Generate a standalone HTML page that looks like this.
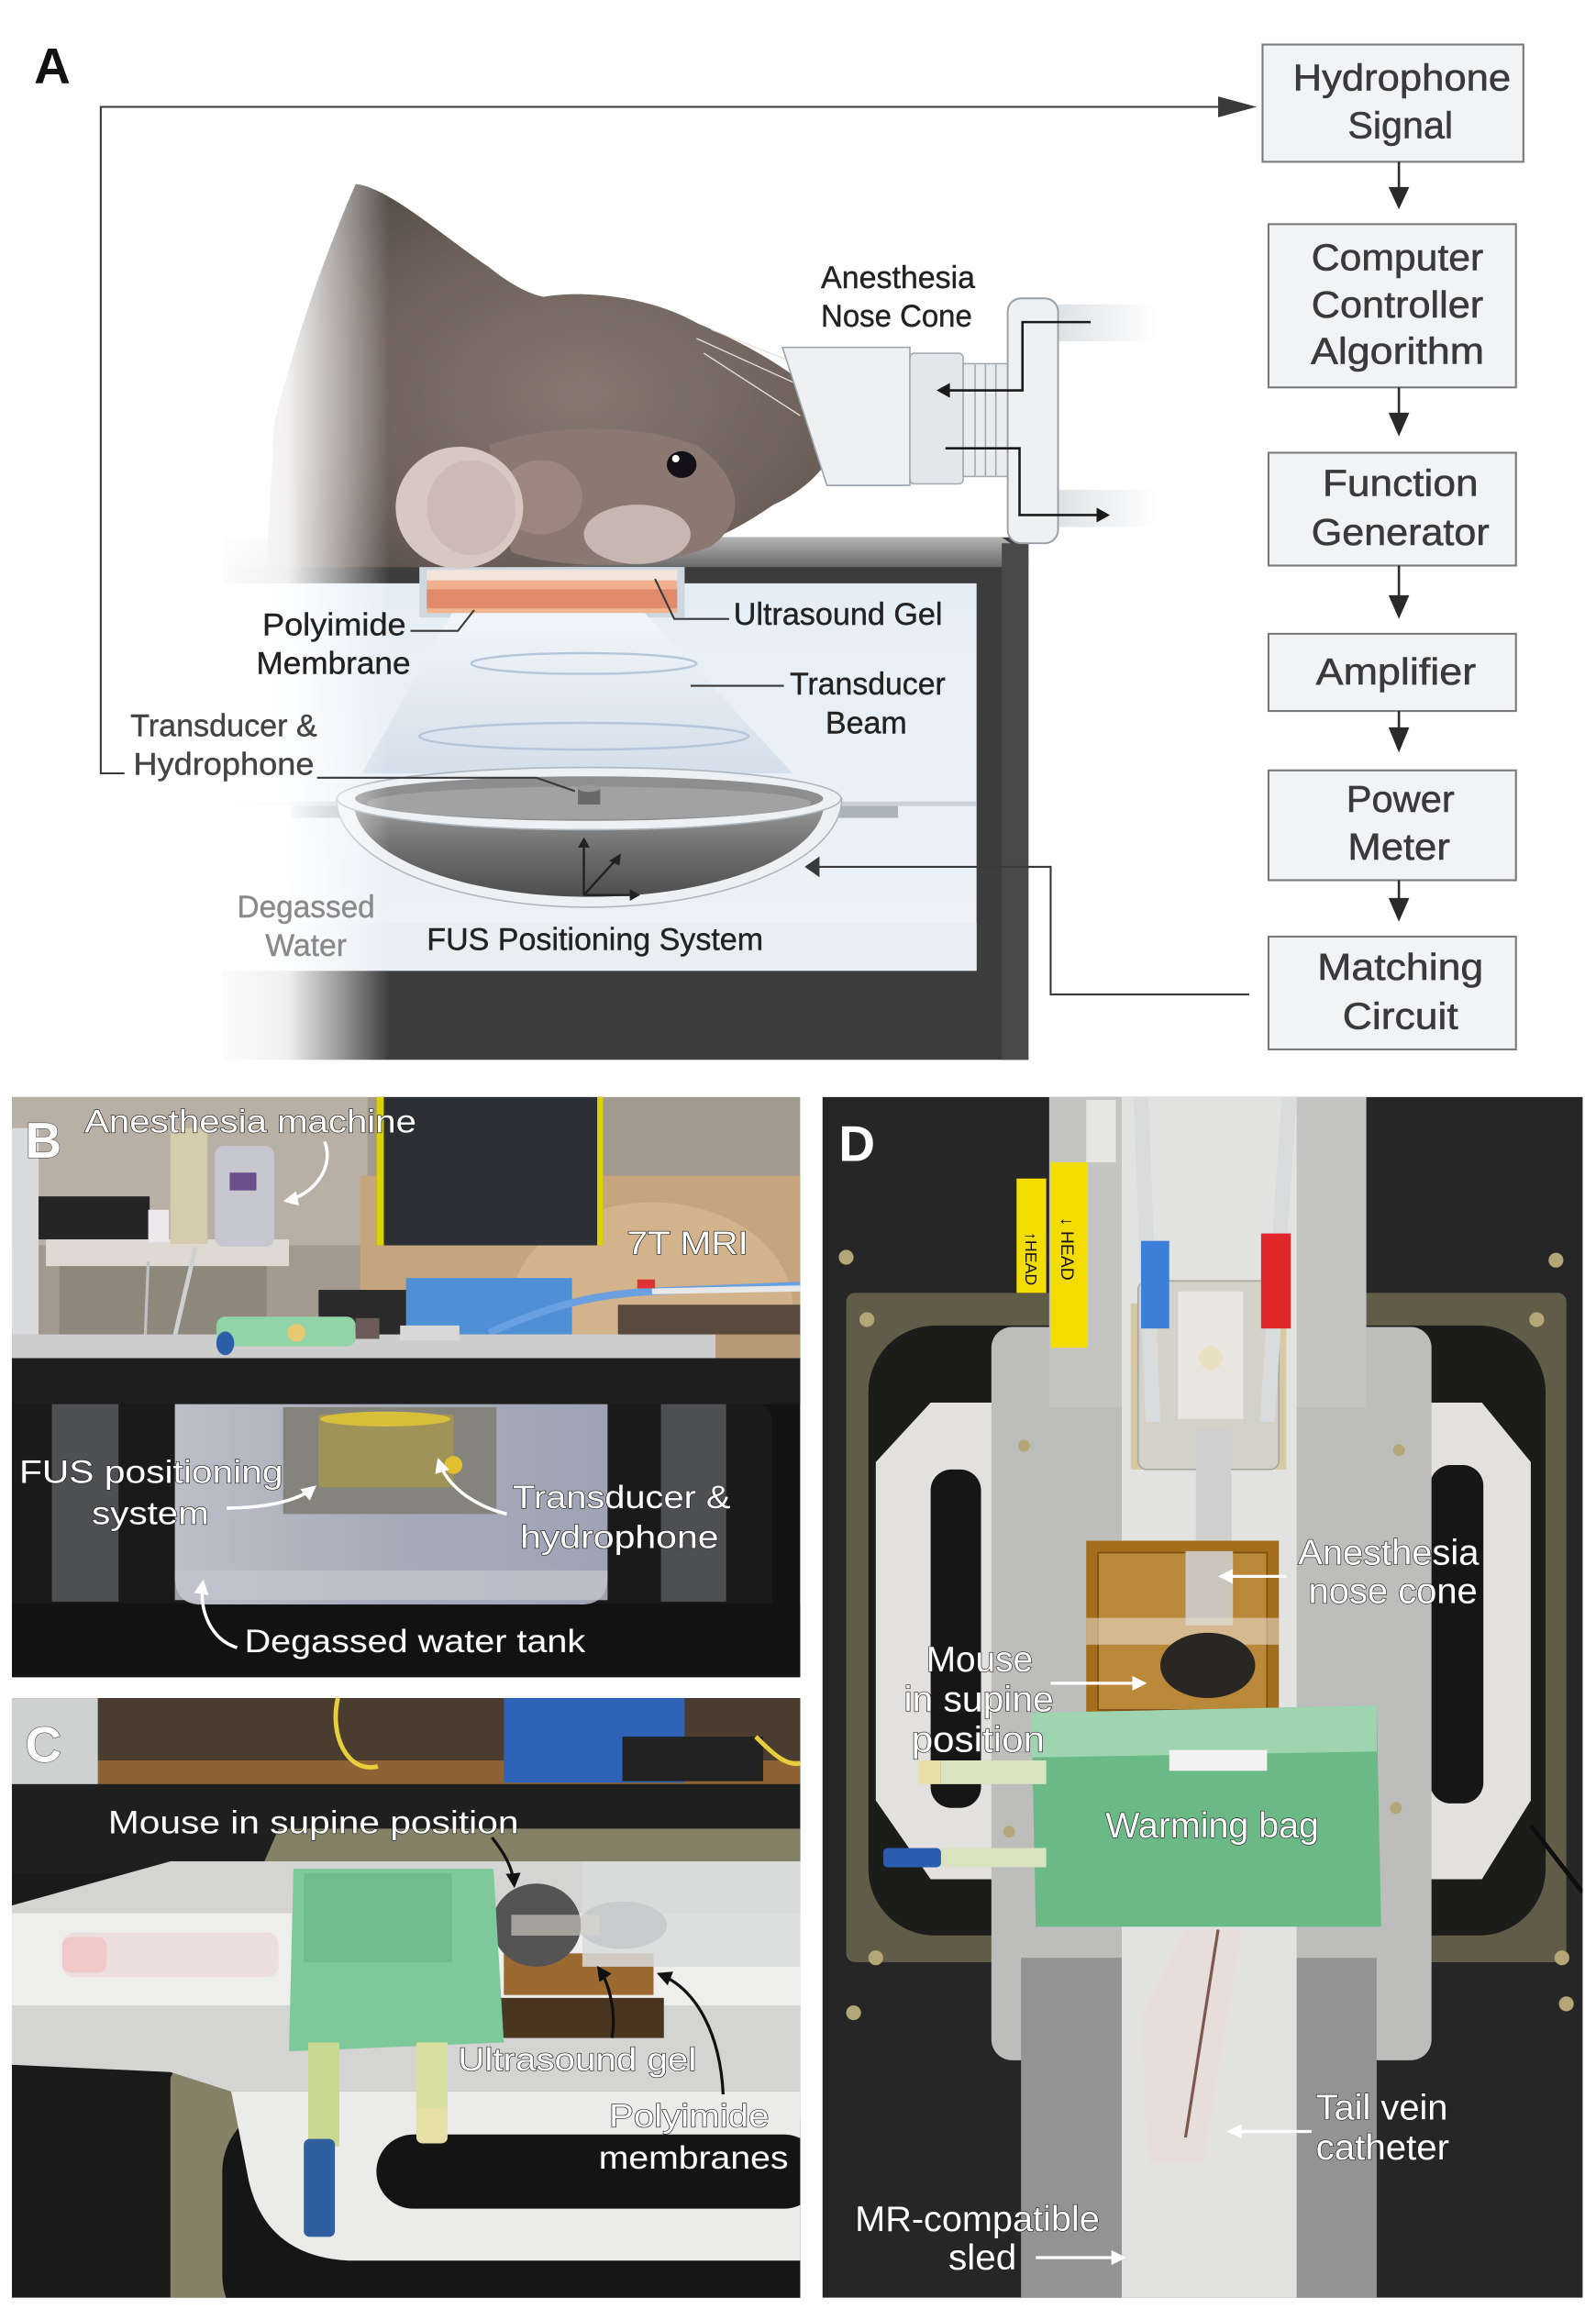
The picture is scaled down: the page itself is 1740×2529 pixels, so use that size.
<!DOCTYPE html>
<html><head><meta charset="utf-8"><style>
html,body{margin:0;padding:0;background:#fff;}
svg{display:block;}
text{font-family:"Liberation Sans",Arial,sans-serif;}
.fc{font-size:25px;fill:#3a3a3a;text-anchor:middle;stroke:#3a3a3a;stroke-width:0.35;}
.la{font-size:21px;fill:#222;stroke:#222;stroke-width:0.25;}
.wt{font-size:22px;fill:#fff;stroke:#222;stroke-width:0.8;paint-order:stroke;}
.wd{font-size:24px;fill:#fff;stroke:#222;stroke-width:0.8;paint-order:stroke;}
</style></head><body>
<svg xmlns="http://www.w3.org/2000/svg" width="1740" height="2529" viewBox="0 0 1077 1563" preserveAspectRatio="none">
<defs>
<linearGradient id="fadeL" x1="0" y1="0" x2="1" y2="0"><stop offset="0" stop-color="#fff" stop-opacity="1"/><stop offset="0.45" stop-color="#fff" stop-opacity="0.92"/><stop offset="0.75" stop-color="#fff" stop-opacity="0.45"/><stop offset="1" stop-color="#fff" stop-opacity="0"/></linearGradient>
<linearGradient id="win" x1="0" y1="0" x2="0" y2="1"><stop offset="0" stop-color="#e6eef5"/><stop offset="1" stop-color="#eef2f6"/></linearGradient>
<linearGradient id="topf" x1="0" y1="0" x2="0" y2="1"><stop offset="0" stop-color="#b4b4b4"/><stop offset="1" stop-color="#6a6a6a"/></linearGradient>
<linearGradient id="bowl" x1="0" y1="0" x2="0" y2="1"><stop offset="0" stop-color="#9a9a9a"/><stop offset="0.5" stop-color="#6e6e6e"/><stop offset="1" stop-color="#4e4e4e"/></linearGradient>
<linearGradient id="beam" x1="0" y1="0" x2="0" y2="1"><stop offset="0" stop-color="#f4f7fb" stop-opacity="0.9"/><stop offset="1" stop-color="#cfdbe8" stop-opacity="0.8"/></linearGradient>
<radialGradient id="fur" cx="0.55" cy="0.55" r="0.6"><stop offset="0" stop-color="#86786f"/><stop offset="0.7" stop-color="#6e615a"/><stop offset="1" stop-color="#5a4f49"/></radialGradient>
<linearGradient id="tube" x1="0" y1="0" x2="1" y2="0"><stop offset="0" stop-color="#dfe2e5"/><stop offset="1" stop-color="#fff"/></linearGradient>
<linearGradient id="tank" x1="0" y1="0" x2="1" y2="0"><stop offset="0" stop-color="#bcbec8"/><stop offset="0.5" stop-color="#a8abb8"/><stop offset="1" stop-color="#9ea3b5"/></linearGradient>
<marker id="mw" viewBox="0 0 10 10" refX="8" refY="5" markerWidth="10" markerHeight="10" markerUnits="userSpaceOnUse" orient="auto"><path d="M0,0 L10,5 L0,10 z" fill="#fff"/></marker>
<marker id="mk" viewBox="0 0 10 10" refX="8" refY="5" markerWidth="10" markerHeight="10" markerUnits="userSpaceOnUse" orient="auto"><path d="M0,0 L10,5 L0,10 z" fill="#111"/></marker>
<clipPath id="cB"><rect x="8" y="739" width="532" height="391"/></clipPath>
<clipPath id="cC"><rect x="8" y="1144" width="532" height="404"/></clipPath>
<clipPath id="cD"><rect x="555" y="739" width="513" height="809"/></clipPath>
</defs>

<!-- ============ PANEL A ============ -->
<text x="23" y="56" style="font-size:34px;font-weight:bold;fill:#111;">A</text>

<!-- box -->
<rect x="150" y="362" width="544" height="352" fill="#3d3d3d"/>
<polygon points="150,362 676,362 694,374 694,382 150,382" fill="url(#topf)"/>
<rect x="676" y="366" width="18" height="348" fill="#4a4a4a"/>
<rect x="150" y="393" width="509" height="261" fill="url(#win)"/>
<rect x="150" y="622" width="509" height="32" fill="#e9eef3"/>
<!-- membrane notch -->
<rect x="283" y="382" width="179" height="34" fill="#cfd8e0"/>
<rect x="288" y="384" width="169" height="7" fill="#f3e4dc"/>
<rect x="288" y="391" width="169" height="6" fill="#f0b08e"/>
<rect x="288" y="397" width="169" height="13" fill="#df8a6a"/>
<rect x="288" y="410" width="169" height="3" fill="#f2b592"/>
<!-- beam -->
<polygon points="305,413 435,413 535,521 244,521" fill="url(#beam)"/>
<ellipse cx="394" cy="447" rx="76" ry="7" fill="none" stroke="#b5c6da" stroke-width="1.5"/>
<ellipse cx="394" cy="496" rx="111" ry="9" fill="none" stroke="#b5c6da" stroke-width="1.5"/>
<!-- rails -->
<rect x="149" y="540" width="510" height="3" fill="#c9d0d8"/>
<rect x="197" y="543" width="40" height="8" fill="#aab3bc"/>
<rect x="566" y="543" width="40" height="8" fill="#aab3bc"/>
<!-- bowl -->
<path d="M227,538 A170,73 0 0 0 568,538 Z" fill="#eef1f4" stroke="#aeb6be" stroke-width="1"/>
<path d="M239,541 A158,63 0 0 0 556,541 Z" fill="url(#bowl)"/>
<ellipse cx="397.5" cy="538" rx="170" ry="21" fill="#eef1f4" stroke="#aeb6be" stroke-width="1"/>
<ellipse cx="397.5" cy="538" rx="158" ry="15" fill="#8e8e8e"/>
<ellipse cx="397.5" cy="541" rx="150" ry="11" fill="#a2a2a2"/>
<rect x="390" y="531" width="15" height="11" fill="#6a6a6a"/>
<ellipse cx="397.5" cy="531" rx="7.5" ry="2.5" fill="#999"/>
<!-- axes -->
<g stroke="#222" stroke-width="1.5" fill="none">
<path d="M394,603 V570"/><path d="M394,603 H426"/><path d="M394,603 L415,580"/>
</g>
<polygon points="390,571 398,571 394,564" fill="#222"/>
<polygon points="425,599 425,607 432,603" fill="#222"/>
<polygon points="411,580 418,583 419,575" fill="#222"/>

<!-- mouse -->
<path d="M180,382 L185,285 C200,225 222,165 240,124 C262,126 300,160 330,180 C345,192 357,198 367,200 C395,195 440,200 471,218 C505,232 535,250 558,271 L565,300 C555,320 538,333 522,340 C500,355 480,366 454,371 C430,378 400,381 367,382 Z" fill="url(#fur)"/>
<path d="M330,300 C370,285 430,285 470,300 C500,320 505,350 480,368 C440,384 380,384 345,372 Z" fill="#8a7871"/>
<ellipse cx="430" cy="360" rx="36" ry="20" fill="#c8b6b1"/>
<ellipse cx="365" cy="335" rx="28" ry="25" fill="#9e8680"/>
<ellipse cx="310" cy="342" rx="43" ry="41" fill="#d7c8c3"/>
<ellipse cx="318" cy="342" rx="30" ry="32" fill="#cdbab4"/>
<ellipse cx="460" cy="313" rx="10" ry="9" fill="#141018"/>
<circle cx="456" cy="309" r="2.5" fill="#fff"/>
<g stroke="#e8e2de" stroke-width="0.8" fill="none">
<path d="M470,228 L545,262"/><path d="M480,222 L550,250"/><path d="M475,238 L540,280"/>
</g>
<!-- nose cone -->
<ellipse cx="556" cy="292" rx="8" ry="18" fill="#d6b4ae"/>
<polygon points="528,234 614,234 614,327 558,327" fill="#eef0f2" stroke="#9aa3ab" stroke-width="1"/>
<rect x="614" y="238" width="36" height="88" rx="3" fill="#e4e7ea" stroke="#a4acb3" stroke-width="1"/>
<rect x="650" y="245" width="30" height="76" fill="#e9ebed" stroke="#a4acb3" stroke-width="1"/>
<g stroke="#a4acb3" stroke-width="1"><line x1="658" y1="245" x2="658" y2="321"/><line x1="665" y1="245" x2="665" y2="321"/><line x1="672" y1="245" x2="672" y2="321"/></g>
<rect x="714" y="205" width="66" height="25" fill="url(#tube)"/>
<rect x="714" y="330" width="66" height="25" fill="url(#tube)"/>
<rect x="680" y="201" width="34" height="165" rx="9" fill="#eef0f2" stroke="#98a0a8" stroke-width="1.2"/>
<g stroke="#1a1a1a" stroke-width="1.6" fill="none">
<path d="M736,217 H690 V263 H640"/><path d="M638,302 H688 V347 H741"/>
</g>
<polygon points="641,258 641,268 632,263" fill="#1a1a1a"/>
<polygon points="740,342 740,352 749,347" fill="#1a1a1a"/>

<!-- left fade -->
<rect x="138" y="110" width="125" height="610" fill="url(#fadeL)"/>

<!-- connectors -->
<g stroke="#3a3a3a" stroke-width="1.3" fill="none">
<path d="M84,521 H68 V72 H823"/>
<path d="M843,670 H709 V584 H552"/>
<path d="M214,524 H362 L388,533"/>
<path d="M277,425 H309 L320,411"/>
<path d="M442,390 L455,417 H492"/>
<path d="M466,462 H529"/>
</g>
<polygon points="822,65 848,72 822,79" fill="#3a3a3a"/>
<polygon points="553,577 553,591 543,584" fill="#3a3a3a"/>

<!-- labels A -->
<text class="la" x="554" y="194" textLength="104" lengthAdjust="spacingAndGlyphs">Anesthesia</text>
<text class="la" x="554" y="220" textLength="102" lengthAdjust="spacingAndGlyphs">Nose Cone</text>
<text class="la" x="177" y="428" textLength="97" lengthAdjust="spacingAndGlyphs">Polyimide</text>
<text class="la" x="173" y="454" textLength="104" lengthAdjust="spacingAndGlyphs">Membrane</text>
<text class="la" x="495" y="421" textLength="141" lengthAdjust="spacingAndGlyphs">Ultrasound Gel</text>
<text class="la" x="533" y="468" textLength="105" lengthAdjust="spacingAndGlyphs">Transducer</text>
<text class="la" x="557" y="494" textLength="55" lengthAdjust="spacingAndGlyphs">Beam</text>
<text class="la" x="88" y="496" textLength="126" lengthAdjust="spacingAndGlyphs" style="fill:#444;stroke:#444">Transducer &amp;</text>
<text class="la" x="90" y="522" textLength="122" lengthAdjust="spacingAndGlyphs" style="fill:#444;stroke:#444">Hydrophone</text>
<text class="la" x="160" y="618" textLength="93" lengthAdjust="spacingAndGlyphs" style="fill:#8a8a8a;stroke:#8a8a8a">Degassed</text>
<text class="la" x="179" y="644" textLength="55" lengthAdjust="spacingAndGlyphs" style="fill:#8a8a8a;stroke:#8a8a8a">Water</text>
<text class="la" x="288" y="640" textLength="227" lengthAdjust="spacingAndGlyphs">FUS Positioning System</text>

<!-- flowchart -->
<g stroke="#7a7a7a" stroke-width="1.3" fill="#f2f3f5">
<rect x="852" y="30" width="176" height="79"/>
<rect x="856" y="151" width="167" height="110"/>
<rect x="856" y="305" width="167" height="76"/>
<rect x="856" y="427" width="167" height="52"/>
<rect x="856" y="519" width="167" height="74"/>
<rect x="856" y="631" width="167" height="76"/>
</g>
<g stroke="#2a2a2a" stroke-width="1.6">
<line x1="944" y1="109" x2="944" y2="128"/>
<line x1="944" y1="261" x2="944" y2="280"/>
<line x1="944" y1="381" x2="944" y2="403"/>
<line x1="944" y1="479" x2="944" y2="492"/>
<line x1="944" y1="593" x2="944" y2="607"/>
</g>
<g fill="#2a2a2a">
<polygon points="937,126 951,126 944,141"/>
<polygon points="937,278 951,278 944,294"/>
<polygon points="937,401 951,401 944,417"/>
<polygon points="937,490 951,490 944,507"/>
<polygon points="937,605 951,605 944,621"/>
</g>
<text class="fc" x="946" y="61" textLength="147" lengthAdjust="spacingAndGlyphs">Hydrophone</text>
<text class="fc" x="945" y="93" textLength="71" lengthAdjust="spacingAndGlyphs">Signal</text>
<text class="fc" x="943" y="182" textLength="116" lengthAdjust="spacingAndGlyphs">Computer</text>
<text class="fc" x="943" y="214" textLength="116" lengthAdjust="spacingAndGlyphs">Controller</text>
<text class="fc" x="943" y="245" textLength="117" lengthAdjust="spacingAndGlyphs">Algorithm</text>
<text class="fc" x="945" y="334" textLength="105" lengthAdjust="spacingAndGlyphs">Function</text>
<text class="fc" x="945" y="367" textLength="120" lengthAdjust="spacingAndGlyphs">Generator</text>
<text class="fc" x="942" y="461" textLength="108" lengthAdjust="spacingAndGlyphs">Amplifier</text>
<text class="fc" x="945" y="547" textLength="73" lengthAdjust="spacingAndGlyphs">Power</text>
<text class="fc" x="944" y="579" textLength="69" lengthAdjust="spacingAndGlyphs">Meter</text>
<text class="fc" x="945" y="660" textLength="112" lengthAdjust="spacingAndGlyphs">Matching</text>
<text class="fc" x="945" y="693" textLength="78" lengthAdjust="spacingAndGlyphs">Circuit</text>

<!-- ============ PANEL B ============ -->
<g clip-path="url(#cB)">
<rect x="8" y="739" width="532" height="177" fill="#a29a8e"/>
<rect x="8" y="739" width="240" height="100" fill="#b8b0a4"/>
<rect x="8" y="760" width="18" height="140" fill="#d8dadc"/>
<rect x="26" y="806" width="75" height="29" fill="#252525"/>
<rect x="31" y="835" width="164" height="18" fill="#dedad3"/>
<rect x="40" y="853" width="140" height="46" fill="#8e877c"/>
<rect x="115" y="760" width="25" height="78" fill="#d4ccaa"/>
<rect x="145" y="772" width="40" height="68" rx="6" fill="#c6c7cf"/>
<rect x="155" y="790" width="18" height="12" fill="#6a4f8a"/>
<rect x="100" y="815" width="14" height="22" fill="#ece8ee"/>
<line x1="132" y1="840" x2="118" y2="900" stroke="#d0d0d0" stroke-width="3"/>
<line x1="100" y1="850" x2="98" y2="900" stroke="#c0c0c0" stroke-width="2"/>
<rect x="243" y="792" width="297" height="124" fill="#c6a47d"/>
<ellipse cx="440" cy="880" rx="95" ry="70" fill="#d2b38c"/>
<rect x="417" y="879" width="123" height="37" fill="#5a4a3e"/>
<rect x="254" y="739" width="153" height="100" fill="#2c2f33"/>
<rect x="254" y="739" width="5" height="100" fill="#dcd200"/>
<rect x="403" y="739" width="4" height="100" fill="#dcd200"/>
<rect x="215" y="869" width="60" height="31" fill="#2a2a2a"/>
<rect x="274" y="861" width="112" height="38" fill="#4f8fd6"/>
<path d="M330,898 C370,880 400,872 440,870 L540,866" stroke="#6aa0e0" stroke-width="5" fill="none"/>
<path d="M440,870 L540,868" stroke="#e8e8e8" stroke-width="4" fill="none"/>
<rect x="430" y="862" width="12" height="6" fill="#d33"/>
<rect x="8" y="899" width="475" height="17" fill="#cdcdcd"/>
<rect x="483" y="899" width="57" height="17" fill="#b59876"/>
<rect x="146" y="887" width="94" height="20" rx="6" fill="#93d3a8"/>
<ellipse cx="152" cy="905" rx="6" ry="8" fill="#2d5ea8"/>
<circle cx="200" cy="898" r="6" fill="#e8c870"/>
<rect x="240" y="888" width="16" height="14" fill="#6a5a58"/>
<rect x="270" y="893" width="40" height="10" fill="#d8d8d8"/>
<rect x="8" y="915" width="532" height="215" fill="#131313"/>
<rect x="8" y="915" width="532" height="31" fill="#1e1e1e"/>
<path d="M8,946 H510 Q521,946 521,958 V1080 H8 Z" fill="#1a1a1a"/>
<rect x="35" y="946" width="45" height="133" fill="#4e4f52"/>
<rect x="446" y="946" width="44" height="133" fill="#4e4f52"/>
<path d="M118,946 H410 V1062 Q410,1081 392,1081 H136 Q118,1081 118,1062 Z" fill="url(#tank)"/>
<rect x="118" y="1058" width="292" height="20" fill="#c2c3ce" opacity="0.8"/>
<rect x="191" y="948" width="144" height="72" fill="#85847c"/>
<rect x="215" y="953" width="91" height="49" fill="#a09358"/>
<ellipse cx="260" cy="956" rx="44" ry="5" fill="#d7bf3a"/>
<circle cx="306" cy="987" r="6" fill="#e0c030"/>
<rect x="8" y="1081" width="532" height="49" fill="#121212"/>
</g>
<text x="17" y="780" style="font-size:34px;font-weight:bold;fill:#fff;stroke:#333;stroke-width:0.6;paint-order:stroke;">B</text>
<g stroke="#fff" stroke-width="2.2" fill="none">
<path d="M219,769 C226,786 212,805 193,809" marker-end="url(#mw)"/>
<path d="M153,1016 C177,1016 200,1012 212,1002" marker-end="url(#mw)"/>
<path d="M342,1020 C318,1014 301,1000 296,984" marker-end="url(#mw)"/>
<path d="M160,1110 C143,1105 134,1086 137,1066" marker-end="url(#mw)"/>
</g>
<text class="wt" x="57" y="763" textLength="224" lengthAdjust="spacingAndGlyphs">Anesthesia machine</text>
<text class="wt" x="423" y="845" textLength="82" lengthAdjust="spacingAndGlyphs">7T MRI</text>
<text class="wt" x="13" y="999" textLength="178" lengthAdjust="spacingAndGlyphs">FUS positioning</text>
<text class="wt" x="62" y="1027" textLength="79" lengthAdjust="spacingAndGlyphs">system</text>
<text class="wt" x="346" y="1016" textLength="147" lengthAdjust="spacingAndGlyphs">Transducer &amp;</text>
<text class="wt" x="351" y="1043" textLength="134" lengthAdjust="spacingAndGlyphs">hydrophone</text>
<text class="wt" x="165" y="1113" textLength="230" lengthAdjust="spacingAndGlyphs">Degassed water tank</text>

<!-- ============ PANEL C ============ -->
<g clip-path="url(#cC)">
<rect x="8" y="1144" width="532" height="404" fill="#1a1a1a"/>
<rect x="8" y="1144" width="532" height="58" fill="#4a3c2e"/>
<rect x="60" y="1186" width="480" height="16" fill="#8f6236"/>
<rect x="8" y="1144" width="58" height="58" fill="#cfd1d1"/>
<rect x="340" y="1144" width="122" height="57" fill="#2f63b8"/>
<rect x="420" y="1170" width="95" height="30" fill="#222"/>
<path d="M228,1144 C222,1170 235,1195 255,1190" stroke="#e6cf3a" stroke-width="3" fill="none"/>
<path d="M510,1170 C520,1180 530,1190 540,1188" stroke="#e6cf3a" stroke-width="3" fill="none"/>
<rect x="8" y="1202" width="532" height="60" fill="#1f1f1f"/>
<polygon points="188,1232 540,1232 540,1548 115,1548 115,1400" fill="#848166"/>
<rect x="150" y="1418" width="410" height="160" rx="45" fill="#161616"/>
<path d="M156,1409 H540 V1523 H235 Q180,1520 168,1470 Z" fill="#ebebea"/>
<rect x="254" y="1438" width="300" height="50" rx="25" fill="#141414"/>
<polygon points="7,1284 115,1254 540,1254 540,1409 156,1409 115,1396 7,1391" fill="#d4d4d2"/>
<rect x="7" y="1289" width="533" height="62" fill="#eeeeed"/>
<rect x="323" y="1346" width="125" height="27" fill="#4a3520"/>
<rect x="340" y="1316" width="101" height="28" fill="#9a6a30"/>
<rect x="393" y="1254" width="147" height="71" fill="#d9dcdc" opacity="0.85"/>
<ellipse cx="420" cy="1297" rx="30" ry="16" fill="#c8cccc"/>
<ellipse cx="362" cy="1297" rx="30" ry="28" fill="#555454"/>
<rect x="345" y="1290" width="60" height="14" fill="#d8d4cc" opacity="0.6"/>
<rect x="42" y="1302" width="146" height="30" rx="8" fill="#ecdede"/>
<rect x="42" y="1305" width="30" height="24" rx="6" fill="#f0c8c8"/>
<path d="M198,1259 L333,1259 L340,1376 L195,1382 Z" fill="#7ec99a"/>
<rect x="205" y="1262" width="100" height="60" fill="#6ab888" opacity="0.7"/>
<rect x="208" y="1376" width="21" height="70" fill="#c8d890"/>
<rect x="205" y="1441" width="21" height="66" rx="4" fill="#2f5fa0"/>
<rect x="281" y="1376" width="21" height="50" fill="#d8dfa0"/>
<rect x="281" y="1420" width="21" height="24" rx="4" fill="#e6dfa8"/>
</g>
<text x="17" y="1187" style="font-size:34px;font-weight:bold;fill:#fff;stroke:#333;stroke-width:0.6;paint-order:stroke;">C</text>
<g stroke="#111" stroke-width="2" fill="none">
<path d="M332,1238 C340,1248 346,1258 347,1270" marker-end="url(#mk)"/>
<path d="M413,1373 C416,1355 411,1336 404,1326" marker-end="url(#mk)"/>
<path d="M488,1411 C486,1370 470,1340 445,1330" marker-end="url(#mk)"/>
</g>
<text class="wt" x="73" y="1235" textLength="277" lengthAdjust="spacingAndGlyphs">Mouse in supine position</text>
<text class="wt" x="309" y="1395" textLength="161" lengthAdjust="spacingAndGlyphs">Ultrasound gel</text>
<text class="wt" x="411" y="1433" textLength="108" lengthAdjust="spacingAndGlyphs">Polyimide</text>
<text class="wt" x="404" y="1461" textLength="128" lengthAdjust="spacingAndGlyphs">membranes</text>

<!-- ============ PANEL D ============ -->
<g clip-path="url(#cD)">
<rect x="555" y="739" width="513" height="809" fill="#262626"/>
<rect x="571" y="871" width="486" height="451" rx="6" fill="#605c47"/>
<rect x="586" y="893" width="457" height="411" rx="45" fill="#1c1c1b"/>
<polygon points="591,985 628,945 1000,945 1033,985 1033,1213 1000,1266 628,1266 591,1213" fill="#e3e1dd"/>
<rect x="628" y="990" width="34" height="228" rx="14" fill="#161616"/>
<rect x="965" y="987" width="36" height="228" rx="14" fill="#161616"/>
<rect x="669" y="894" width="297" height="494" rx="14" fill="#bdbdbc"/>
<rect x="689" y="1319" width="240" height="250" fill="#939393"/>
<rect x="708" y="739" width="214" height="209" fill="#c4c4c2"/>
<rect x="757" y="739" width="118" height="830" fill="#e2e2e0"/>
<rect x="733" y="741" width="20" height="42" fill="#e6e6e2"/>
<rect x="763" y="878" width="105" height="112" fill="#d7c9a2"/>
<rect x="768" y="863" width="95" height="127" rx="6" fill="#d4d1c9" stroke="#a8a8a0" stroke-width="1"/>
<rect x="795" y="870" width="44" height="86" fill="#e8e6e0"/>
<circle cx="817" cy="915" r="8" fill="#e8e0c0"/>
<rect x="807" y="963" width="24" height="82" fill="#cfcfcf"/>
<path d="M770,739 L778,958" stroke="#d9dcdc" stroke-width="10" fill="none"/>
<path d="M870,739 L855,958" stroke="#d9dcdc" stroke-width="10" fill="none"/>
<rect x="770" y="836" width="19" height="59" fill="#3b7fd9"/>
<rect x="851" y="831" width="20" height="64" fill="#e0252b"/>
<rect x="686" y="794" width="20" height="77" fill="#f3dd00"/>
<rect x="709" y="783" width="25" height="125" fill="#f3dd00"/>
<text transform="translate(692,830) rotate(90)" style="font-size:11px;fill:#111;">↑HEAD</text>
<text transform="translate(716,820) rotate(90)" style="font-size:12px;fill:#111;">↓ HEAD</text>
<rect x="733" y="1038" width="130" height="122" fill="#a46d1c"/>
<rect x="741" y="1046" width="114" height="106" fill="#b98838" stroke="#7a4c10" stroke-width="1"/>
<rect x="800" y="1045" width="32" height="50" fill="#cbc5bd"/>
<rect x="733" y="1090" width="130" height="18" fill="#e6dcc8" opacity="0.6"/>
<ellipse cx="815" cy="1122" rx="32" ry="22" fill="#2a2624"/>
<path d="M696,1154 L929,1149 L932,1298 L699,1298 Z" fill="#6ab986"/>
<path d="M696,1154 L929,1149 L929,1180 L696,1184 Z" fill="#9fd4b0"/>
<rect x="789" y="1179" width="66" height="14" fill="#f2f2f2"/>
<rect x="635" y="1186" width="71" height="16" fill="#d9e3c0"/>
<rect x="620" y="1186" width="15" height="16" fill="#e6dfa8"/>
<rect x="635" y="1245" width="71" height="13" fill="#d9e3c0"/>
<rect x="596" y="1245" width="39" height="13" rx="3" fill="#2a5cb0"/>
<path d="M770,1360 L800,1300 L838,1300 L812,1457 L775,1457 Z" fill="#e8dcd8" opacity="0.85"/>
<line x1="822" y1="1300" x2="800" y2="1440" stroke="#7a5a50" stroke-width="2"/>
<path d="M1033,1230 L1068,1275" stroke="#0e0e0e" stroke-width="3" fill="none"/>
<g fill="#b4a676">
<circle cx="571" cy="847" r="5"/><circle cx="1050" cy="849" r="5"/>
<circle cx="585" cy="889" r="5"/><circle cx="1037" cy="889" r="5"/>
<circle cx="691" cy="974" r="4"/><circle cx="944" cy="977" r="4"/>
<circle cx="681" cy="1234" r="4"/><circle cx="942" cy="1218" r="4"/>
<circle cx="591" cy="1319" r="5"/><circle cx="1054" cy="1319" r="5"/>
<circle cx="1057" cy="1350" r="5"/><circle cx="576" cy="1356" r="5"/>
</g>
</g>
<text x="566" y="782" style="font-size:34px;font-weight:bold;fill:#fff;stroke:#333;stroke-width:0.6;paint-order:stroke;">D</text>
<g stroke="#fff" stroke-width="2" fill="none">
<path d="M868,1062 H824" marker-end="url(#mw)"/>
<path d="M709,1134 H772" marker-end="url(#mw)"/>
<path d="M885,1436 H830" marker-end="url(#mw)"/>
<path d="M699,1521 H758" marker-end="url(#mw)"/>
</g>
<text class="wd" x="876" y="1054" textLength="122" lengthAdjust="spacingAndGlyphs">Anesthesia</text>
<text class="wd" x="883" y="1080" textLength="114" lengthAdjust="spacingAndGlyphs">nose cone</text>
<text class="wd" x="625" y="1126" textLength="72" lengthAdjust="spacingAndGlyphs">Mouse</text>
<text class="wd" x="610" y="1153" textLength="101" lengthAdjust="spacingAndGlyphs">in supine</text>
<text class="wd" x="615" y="1180" textLength="90" lengthAdjust="spacingAndGlyphs">position</text>
<text class="wd" x="746" y="1238" textLength="144" lengthAdjust="spacingAndGlyphs">Warming bag</text>
<text class="wd" x="888" y="1428" textLength="89" lengthAdjust="spacingAndGlyphs">Tail vein</text>
<text class="wd" x="888" y="1455" textLength="90" lengthAdjust="spacingAndGlyphs">catheter</text>
<text class="wd" x="577" y="1503" textLength="165" lengthAdjust="spacingAndGlyphs">MR-compatible</text>
<text class="wd" x="640" y="1529" textLength="46" lengthAdjust="spacingAndGlyphs">sled</text>
</svg>
</body></html>
